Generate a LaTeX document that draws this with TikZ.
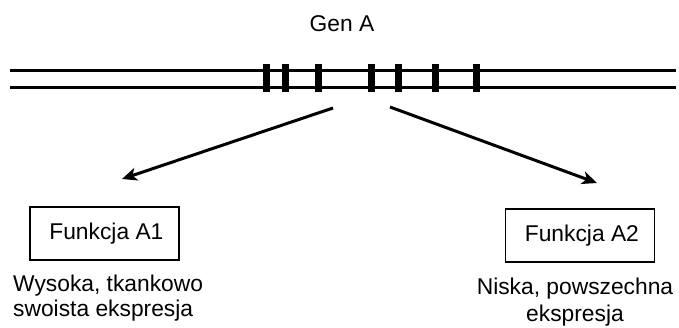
\documentclass[tikz,border=0pt]{standalone}
\usepackage{fontspec}
\setmainfont{Liberation Sans}
\usetikzlibrary{arrows.meta}
\begin{document}
\begin{tikzpicture}[x=1pt,y=-1pt,
  every node/.style={font=\fontsize{22.8}{25}\selectfont, inner sep=0pt},
  dna/.style={line width=3pt},
  exon/.style={line width=7pt},
  conn/.style={line width=3pt, -{Stealth[length=15pt,width=13pt,inset=4pt]}},
  fbox/.style={draw, line width=1.6pt, minimum width=149pt, minimum height=53pt}]
\useasboundingbox (0,0) rectangle (679,327);
% strands
\coordinate (l1) at (10,70); \coordinate (r1) at (676,70);
\coordinate (l2) at (10,87); \coordinate (r2) at (676,87);
\draw[dna] (l1) -- (r1);
\draw[dna] (l2) -- (r2);
% exons
\foreach \x in {266,285,318,371,398,435,476}{
  \draw[exon] (\x,64) -- (\x,92);
}
\node[anchor=base] (gen) at (342,31) {Gen A};
\node[fbox] (a1) at (104.5,233.5) {\,Funkcja A1};
\node[fbox] (a2) at (580,235.5) {\,Funkcja A2};
\coordinate (s1) at (333,108); \coordinate (t1) at (122,179);
\coordinate (s2) at (390,107); \coordinate (t2) at (597,183);
\draw[conn] (s1) -- (t1);
\draw[conn] (s2) -- (t2);
\node[anchor=base west, align=left] (d1) at (13,316) {Wysoka, tkankowo\\swoista ekspresja};
\node[anchor=base, align=center] (d2) at (575,321) {Niska, powszechna\\[2pt]ekspresja};
\end{tikzpicture}
\end{document}
